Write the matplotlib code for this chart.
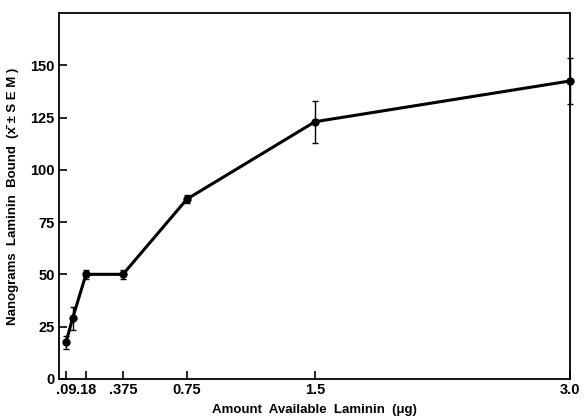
import matplotlib
matplotlib.use("Agg")
import matplotlib.pyplot as plt
import numpy as np

amount = [0.09, 0.12, 0.18, 0.375, 0.75, 1.5, 3.0]
bound = [17.5, 29, 50, 50, 86, 123, 142.5]
sem = [3, 5.5, 2, 2, 2, 10, 11]
xticks = [0.09, 0.18, 0.375, 0.75, 1.5, 3.0]
xticklabels = [".09", ".18", ".375", "0.75", "1.5", "3.0"]
yticks = [0, 25, 50, 75, 100, 125, 150]

# hand-drawn axis of the original: piecewise-linear spacing
scale_vals = np.array([0.0, 0.09, 0.18, 0.375, 0.75, 1.5, 3.0])
scale_pos = np.array([0.0, 7.0, 27.0, 64.0, 128.0, 256.0, 511.0])

def fwd(v):
    return np.interp(v, scale_vals, scale_pos)

def inv(p):
    return np.interp(p, scale_pos, scale_vals)

plt.rcParams['font.family'] = ['Liberation Sans', 'DejaVu Sans']
plt.rcParams['font.weight'] = 'bold'

fig = plt.figure(figsize=(5.84, 4.2), dpi=100)
ax = fig.add_axes([0.101, 0.098, 0.875, 0.871])
ax.set_xscale('function', functions=(fwd, inv))

ax.errorbar(amount, bound, yerr=sem, color='black', lw=2.2, marker='o',
            ms=5, capsize=2.5, elinewidth=1.0, capthick=1.0, clip_on=False)

ax.set_xlim(0, 3.0)
ax.set_ylim(0, 175)
ax.set_xticks(xticks)
ax.set_xticklabels(xticklabels)
ax.set_xticks([], minor=True)
ax.set_yticks(yticks)
ax.tick_params(direction='in', length=6, width=1.2, labelsize=10.5, pad=3)
for lab in ax.get_xticklabels() + ax.get_yticklabels():
    lab.set_fontweight('bold')
for s in ax.spines.values():
    s.set_linewidth(1.3)

ax.set_xlabel("Amount  Available  Laminin  (\u03bcg)", fontsize=9.5,
              fontweight='bold')
ax.xaxis.set_label_coords(0.5, -0.068)
ax.set_ylabel("Nanograms  Laminin  Bound  (x\u0304 \u00b1 S E M )", fontsize=9.5,
              fontweight='bold', labelpad=8)

fig.savefig("out.png", dpi=100)
